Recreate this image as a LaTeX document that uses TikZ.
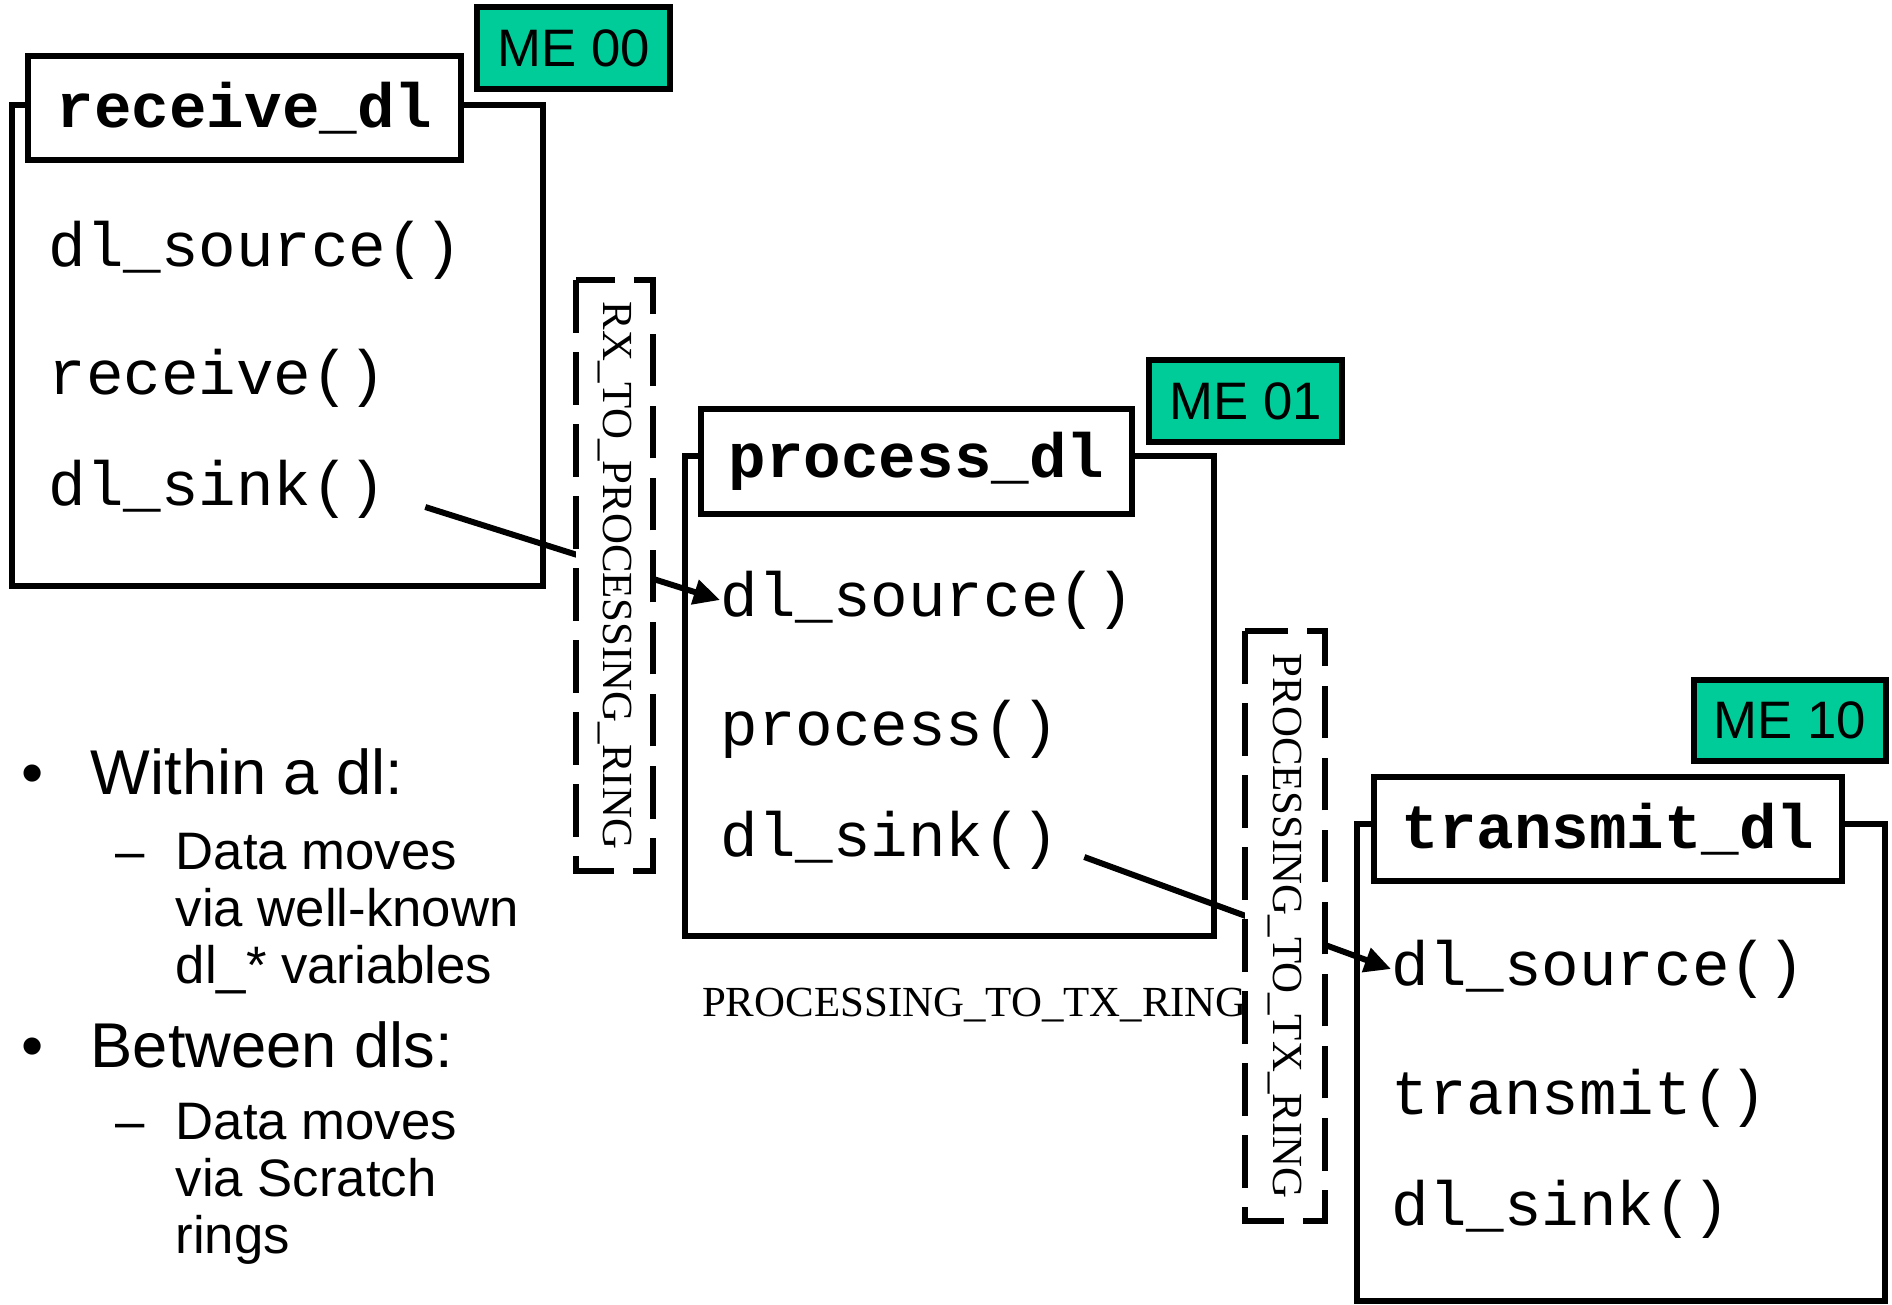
\documentclass[tikz,border=0pt]{standalone}
\usepackage{fontspec}
\setmainfont{Liberation Serif}
\setsansfont{Liberation Sans}
\setmonofont{Liberation Mono}
\usetikzlibrary{arrows.meta}
\definecolor{megreen}{RGB}{0,204,153}
\newcommand{\dlcode}{\ttfamily\fontsize{17.8}{20}\selectfont}
\newcommand{\dlme}{\sffamily\fontsize{15}{17}\selectfont}
\newcommand{\dlring}{\rmfamily\fontsize{12.2}{14}\selectfont}
\newcommand{\dlbig}{\sffamily\fontsize{18}{21}\selectfont}
\newcommand{\dlsmall}{\sffamily\fontsize{15}{17}\selectfont}
\tikzset{
    box/.style={line width=1.8pt},
    titlebox/.style={line width=1.8pt, fill=white},
    mebox/.style={line width=1.8pt, fill=megreen},
    ringbox/.style={line width=1.8pt, fill=white, dash pattern=on 15pt off 5.5pt},
    fn/.style={anchor=west, inner sep=0pt, font=\dlcode},
    flow/.style={line width=1.7pt, -{Triangle[length=7.5pt,width=7pt]}},
    txt/.style={anchor=base west, inner sep=0pt},
}
\begin{document}
\begin{tikzpicture}[x=1cm, y=-1cm]
        \useasboundingbox (0, 0) rectangle (18.92, 13.04);

        % receive_dl
        \draw[box] (0.12, 1.05) rectangle (5.43, 5.86);
        \draw[titlebox] (0.28, 0.56) rectangle (4.61, 1.60);
            \node[font=\dlcode\bfseries] (rname) at (2.445, 1.08) {receive\_dl};
        \draw[mebox] (4.77, 0.07) rectangle (6.70, 0.89);
            \node[font=\dlme] (me0) at (5.735, 0.48) {ME 00};
        \node[fn] (rsrc) at (0.48, 2.50) {dl\_source()};
        \node[fn] (rrecv) at (0.48, 3.78) {receive()};
        \node[fn] (rsink) at (0.48, 4.89) {dl\_sink()};

        % process_dl
        \draw[box] (6.85, 4.56) rectangle (12.14, 9.36);
        \draw[titlebox] (7.01, 4.09) rectangle (11.32, 5.14);
            \node[font=\dlcode\bfseries] (pname) at (9.165, 4.615) {process\_dl};
        \draw[mebox] (11.49, 3.60) rectangle (13.42, 4.42);
            \node[font=\dlme] (me1) at (12.455, 4.01) {ME 01};
        \node[fn] (psrc) at (7.20, 6.00) {dl\_source()};
        \node[fn] (pproc) at (7.20, 7.29) {process()};
        \node[fn] (psink) at (7.20, 8.40) {dl\_sink()};

        % transmit_dl
        \draw[box] (13.57, 8.24) rectangle (18.85, 13.01);
        \draw[titlebox] (13.74, 7.77) rectangle (18.42, 8.81);
            \node[font=\dlcode\bfseries] (tname) at (16.08, 8.29) {transmit\_dl};
        \draw[mebox] (16.94, 6.80) rectangle (18.86, 7.61);
            \node[font=\dlme] (me2) at (17.90, 7.205) {ME 10};
        \node[fn] (tsrc) at (13.91, 9.69) {dl\_source()};
        \node[fn] (ttx) at (13.91, 10.98) {transmit()};
        \node[fn] (tsink) at (13.91, 12.09) {dl\_sink()};

        \draw[flow] ([xshift=0.38cm, yshift=-0.18cm]rsink.east) -- (psrc.west);
        \draw[flow] ([xshift=0.25cm, yshift=-0.17cm]psink.east) -- (tsrc.west);

        \node[font=\dlring] (txlabel) at (9.745, 10.05) {PROCESSING\_TO\_TX\_RING};

        % scratch rings
        \draw[ringbox] (5.76, 2.80) rectangle (6.53, 8.71);
            \node[font=\dlring, rotate=-90] (rxring) at (6.145, 5.755) {RX\_TO\_PROCESSING\_RING};
        \draw[ringbox] (12.45, 6.31) rectangle (13.25, 12.21);
            \node[font=\dlring, rotate=-90] (txring) at (12.85, 9.26) {PROCESSING\_TO\_TX\_RING};

        % notes
        \node[font=\dlbig, anchor=base] (dot1) at (0.33, 7.94) {•};
        \node[txt, font=\dlbig] (within) at (0.90, 7.94) {Within a dl:};
        \node[txt, font=\dlsmall] (dash1) at (1.15, 8.69) {–};
        \node[txt, font=\dlsmall] (w1) at (1.75, 8.69) {Data moves};
        \node[txt, font=\dlsmall] (w2) at (1.75, 9.26) {via well-known};
        \node[txt, font=\dlsmall] (w3) at (1.75, 9.83) {dl\_* variables};
        \node[font=\dlbig, anchor=base] (dot2) at (0.33, 10.67) {•};
        \node[txt, font=\dlbig] (between) at (0.90, 10.67) {Between dls:};
        \node[txt, font=\dlsmall] (dash2) at (1.15, 11.39) {–};
        \node[txt, font=\dlsmall] (b1) at (1.75, 11.39) {Data moves};
        \node[txt, font=\dlsmall] (b2) at (1.75, 11.96) {via Scratch};
        \node[txt, font=\dlsmall] (b3) at (1.75, 12.53) {rings};
    \end{tikzpicture}
\end{document}
